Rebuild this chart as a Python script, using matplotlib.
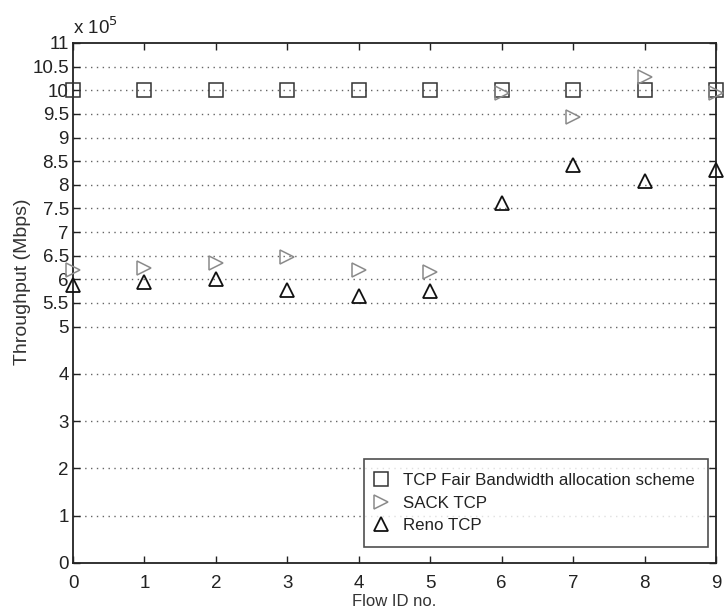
import matplotlib
matplotlib.use("Agg")
import matplotlib.pyplot as plt
from matplotlib.ticker import FuncFormatter, FixedLocator

plt.rcParams['font.family'] = ['Liberation Sans', 'DejaVu Sans']

flow_ids = [0, 1, 2, 3, 4, 5, 6, 7, 8, 9]
fair_scheme = [1.000e6, 1.000e6, 1.000e6, 1.000e6, 1.000e6, 1.000e6, 1.000e6, 1.000e6, 1.000e6, 1.000e6]
sack_tcp = [6.20e5, 6.24e5, 6.34e5, 6.47e5, 6.20e5, 6.15e5, 9.95e5, 9.43e5, 10.28e5, 9.95e5]
reno_tcp = [5.87e5, 5.94e5, 6.01e5, 5.78e5, 5.65e5, 5.76e5, 7.62e5, 8.42e5, 8.07e5, 8.32e5]

y_ticks = [0, 1, 2, 3, 4, 5, 5.5, 6, 6.5, 7, 7.5, 8, 8.5, 9, 9.5, 10, 10.5, 11]
scale = 1e5

fig = plt.figure(figsize=(7.25, 6.13), dpi=100)
ax = fig.add_axes([0.1007, 0.0816, 0.8869, 0.8483])

# horizontal dotted grid at every y tick
for t in y_ticks[1:-1]:
    ax.axhline(t * scale, color='#666666', linestyle=(0, (1, 3.2)), linewidth=1.0, zorder=0)

ax.plot(flow_ids, fair_scheme, linestyle='none', marker='s', markersize=10,
        markerfacecolor='none', markeredgecolor='#333333', markeredgewidth=1.1,
        label='TCP Fair Bandwidth allocation scheme', zorder=3, clip_on=False)
ax.plot(flow_ids, sack_tcp, linestyle='none', marker='>', markersize=10,
        markerfacecolor='none', markeredgecolor='#8a8a8a', markeredgewidth=1.1,
        label='SACK TCP', zorder=3, clip_on=False)
ax.plot(flow_ids, reno_tcp, linestyle='none', marker='^', markersize=10,
        markerfacecolor='none', markeredgecolor='#111111', markeredgewidth=1.3,
        label='Reno TCP', zorder=3, clip_on=False)

ax.set_xlim(0, 9)
ax.set_ylim(0, 11 * scale)
ax.set_xticks(flow_ids)
ax.yaxis.set_major_locator(FixedLocator([t * scale for t in y_ticks]))
ax.yaxis.set_major_formatter(FuncFormatter(lambda v, p: f"{v / scale:g}"))

ax.tick_params(axis='both', direction='in', length=5, width=1.0,
               top=True, right=True, labelsize=13.5, colors='#222222', pad=3)
ax.tick_params(axis='x', pad=9)
for s in ax.spines.values():
    s.set_linewidth(1.3)
    s.set_color('#222222')

ax.text(0.0, 1.01, r'x 10$^{5}$', transform=ax.transAxes, fontsize=13.5,
        color='#222222', ha='left', va='bottom')

ax.set_ylabel('Throughput (Mbps)', fontsize=14, color='#333333')
ax.yaxis.set_label_coords(-0.065, 0.54)
ax.set_xlabel('Flow ID no.', fontsize=12, color='#333333', labelpad=1)

leg = ax.legend(loc='lower right', bbox_to_anchor=(0.9876, 0.031), fontsize=12.2,
                frameon=True, fancybox=False, edgecolor='#222222', borderaxespad=0,
                handlelength=0.3, handletextpad=1.15, labelspacing=0.46,
                borderpad=0.8, markerscale=0.95)
leg.get_frame().set_linewidth(1.2)
for txt in leg.get_texts():
    txt.set_color('#222222')

fig.savefig('out.png', dpi=100)
